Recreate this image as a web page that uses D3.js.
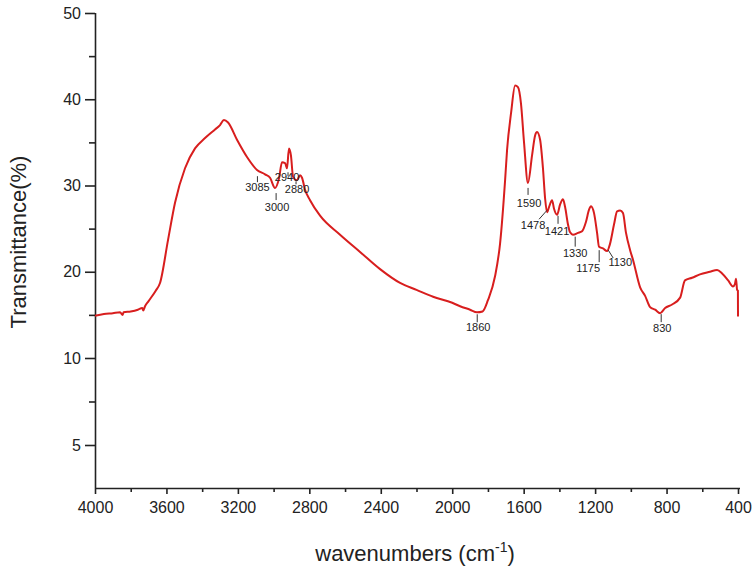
<!DOCTYPE html>
<html>
<head>
<meta charset="utf-8">
<script src="https://cdn.jsdelivr.net/npm/d3@7"></script>
<style>
  body { margin: 0; background: #fff; }
  svg { font-family: "Liberation Sans", Arial, sans-serif; }
</style>
</head>
<body>
<svg id="chart" width="755" height="572"></svg>
<script>
// spectrum
var wavenumbers = [4000, 3950, 3900, 3860, 3845, 3840, 3800, 3760, 3735, 3730, 3720, 3700, 3660, 3636, 3591, 3552,
    3496, 3440, 3384, 3328, 3300, 3278, 3255, 3205, 3149, 3093, 3048, 3020, 2992, 2970, 2953, 2936, 2925,
    2914, 2903, 2891, 2869, 2852, 2841, 2824, 2796, 2740, 2628, 2516, 2404, 2292, 2200, 2107, 2000, 1956,
    1900, 1861, 1830, 1800, 1760, 1732, 1704, 1693, 1670, 1648, 1632, 1615, 1598, 1576, 1553, 1536, 1525,
    1508, 1492, 1480, 1469, 1458, 1441, 1430, 1413, 1396, 1380, 1368, 1352, 1341, 1324, 1296, 1273, 1251,
    1234, 1223, 1206, 1189, 1178, 1156, 1133, 1117, 1094, 1077, 1060, 1044, 1027, 1004, 988, 948, 920,
    892, 864, 836, 808, 769, 724, 697, 657, 613, 557, 517, 489, 455, 428, 417, 411, 405, 400.5, 400];
var transmittance = [14.9, 15.1, 15.2, 15.3, 15.0, 15.3, 15.4, 15.6, 15.8, 15.5, 16.0, 16.6, 17.8, 18.7, 23.7, 28.0,
    32.0, 34.3, 35.5, 36.5, 37.0, 37.6, 37.3, 35.3, 33.3, 31.8, 31.3, 30.9, 29.7, 30.8, 32.7, 32.6, 32.0,
    34.3, 33.5, 31.0, 30.6, 31.2, 30.9, 29.5, 28.3, 26.5, 24.3, 22.3, 20.3, 18.7, 17.9, 17.1, 16.4, 16.0,
    15.6, 15.3, 15.4, 16.7, 19.5, 23.3, 30.6, 34.1, 38.5, 41.6, 41.4, 39.5, 35.0, 30.3, 33.5, 35.8, 36.2,
    35.3, 32.0, 28.5, 26.9, 27.5, 28.3, 27.3, 26.6, 27.8, 28.4, 27.5, 25.5, 24.6, 24.3, 24.5, 24.7, 25.8,
    27.2, 27.6, 26.8, 24.5, 22.9, 22.7, 22.4, 23.2, 25.5, 27.0, 27.1, 26.8, 24.5, 22.5, 21.4, 18.2, 17.2,
    15.9, 15.6, 15.2, 15.8, 16.2, 17.0, 19.0, 19.3, 19.7, 20.0, 20.2, 19.8, 19.0, 18.3, 18.6, 19.2, 17.9, 17.8, 14.8];

var peakLabels = [3085, 3000, 2940, 2880, 1860, 1590, 1478, 1421, 1330, 1175, 1130, 830];

var xTicks = [4000, 3600, 3200, 2800, 2400, 2000, 1600, 1200, 800, 400];
var xMinorTicks = [3800, 3400, 3000, 2600, 2200, 1800, 1400, 1000, 600];
var yTicks = [5, 10, 20, 30, 40, 50];
var yMinorTicks = [7.5, 15, 25, 35, 45];

var svg = d3.select("#chart");

var x = d3.scaleLinear().domain([4000, 400]).range([95, 738]);
// the y axis is compressed below 10
var y = d3.scaleLinear().domain([2.5, 5, 10, 50]).range([488, 445, 358, 13]);

var points = wavenumbers.map(function(w, i){ return [w, transmittance[i]]; });

// axes
var xAxis = svg.append("g").attr("transform", "translate(0,488)")
    .call(d3.axisBottom(x).tickValues(xTicks).tickSize(6).tickPadding(8).tickFormat(d3.format("d")));
svg.append("g").attr("transform", "translate(0,488)")
    .call(d3.axisBottom(x).tickValues(xMinorTicks).tickSize(4).tickFormat(""))
    .select(".domain").remove();

var yAxis = svg.append("g").attr("transform", "translate(95,0)")
    .call(d3.axisLeft(y).tickValues(yTicks).tickSize(10).tickPadding(4).tickFormat(d3.format("d")));
svg.append("g").attr("transform", "translate(95,0)")
    .call(d3.axisLeft(y).tickValues(yMinorTicks).tickSize(6).tickFormat(""))
    .select(".domain").remove();

xAxis.select(".domain").attr("d", "M95,0.5H740");
yAxis.select(".domain").attr("d", "M0.5,13V488");
svg.selectAll(".domain, .tick line").attr("stroke", "#222").attr("stroke-width", 1.6);
svg.selectAll(".tick text").attr("font-size", 16).attr("fill", "#222")
    .attr("font-family", "Liberation Sans, Arial, sans-serif");

// spectrum
svg.append("path")
    .datum(points)
    .attr("fill", "none")
    .attr("stroke", "#d81e1e")
    .attr("stroke-width", 2)
    .attr("stroke-linejoin", "round")
    .attr("d", d3.line().curve(d3.curveMonotoneX)
        .x(function(d){ return x(d[0]); }).y(function(d){ return y(d[1]); }));

// band labels sit under the local minimum of the curve
function localMin(w){
    var lo = Infinity;
    for (var i = 0; i < points.length - 1; i++){
        var a = points[i], b = points[i + 1];
        for (var k = -15; k <= 15; k += 1){
            var ww = w + k;
            if (ww <= a[0] && ww >= b[0]){
                var t = (a[0] - ww) / (a[0] - b[0]);
                lo = Math.min(lo, a[1] + t * (b[1] - a[1]));
            }
        }
    }
    return lo;
}
// [line x1, y1, x2, y2, text x, text y] offsets from that point
var layout = {
    3085: [-1, 4, -1, 10, -1, 19],
    3000: [2.5, 5, 2.5, 12, 3.5, 23],
    2940: [3.7, 4, 3.7, 8, 2.7, 13],
    2880: [1, 1, 1, 4, 2, 13],
    1860: [0, 2, 0, 10, 1, 19],
    1590: [2.6, 5, 2.6, 12, 3.6, 24],
    1478: [1.6, -2, -6.4, 7, -12.4, 17],
    1421: [2.4, 1, 2.4, 9, 1.4, 20],
    1330: [3.3, 2, 3.3, 12, 3.3, 22.5],
    1175: [-0.4, 2, -0.4, 14, -11.4, 24],
    1130: [0.6, -1, 5.6, 7, 12.6, 15],
    830:  [0, 1, 0, 9, 1, 19]
};
var ann = svg.append("g");
peakLabels.forEach(function(w){
    var px = x(w), py = y(localMin(w)), o = layout[w];
    ann.append("line")
        .attr("x1", px + o[0]).attr("y1", py + o[1])
        .attr("x2", px + o[2]).attr("y2", py + o[3])
        .attr("stroke", "#333").attr("stroke-width", 1);
    ann.append("text")
        .attr("x", px + o[4]).attr("y", py + o[5])
        .attr("text-anchor", "middle")
        .attr("font-size", 11).attr("fill", "#222")
        .text(w);
});

// axis titles
svg.append("text")
    .attr("transform", "translate(26,242) rotate(-90)")
    .attr("text-anchor", "middle")
    .attr("font-size", 22).attr("fill", "#222")
    .text("Transmittance(%)");

var xt = svg.append("text")
    .attr("x", 415).attr("y", 561)
    .attr("text-anchor", "middle")
    .attr("font-size", 22).attr("fill", "#222");
xt.append("tspan").text("wavenumbers (cm");
xt.append("tspan").attr("font-size", 14).attr("dy", -9).text("-1");
xt.append("tspan").attr("dy", 9).text(")");
</script>
</body>
</html>
